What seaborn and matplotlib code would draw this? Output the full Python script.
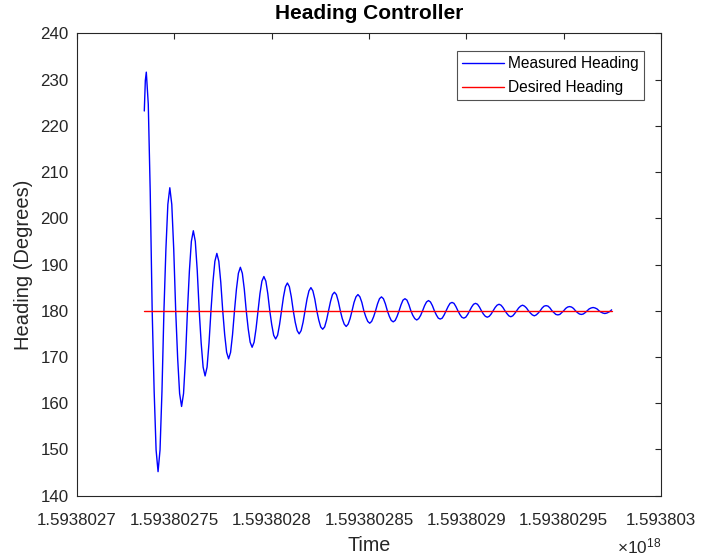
import matplotlib
matplotlib.use("Agg")
import matplotlib.pyplot as plt
import matplotlib.ticker as mticker
import seaborn as sns
import pandas as pd

# ---------------- data ----------------
T0_NS = 1.5938027e18           # start of the x axis, nanoseconds

# measured heading: time offsets (s) from T0, one row per half swing
measured_t = [
    34.57, 35.10,
    35.60, 36.61, 37.61, 38.62, 39.63, 40.63,
    41.64, 42.65, 43.65, 44.66, 45.67, 46.67,
    47.68, 48.69, 49.69, 50.70, 51.71, 52.71,
    53.72, 54.73, 55.73, 56.74, 57.75, 58.75,
    59.76, 60.77, 61.77, 62.78, 63.79, 64.79,
    65.80, 66.81, 67.81, 68.82, 69.83, 70.83,
    71.84, 72.85, 73.85, 74.86, 75.87, 76.87,
    77.88, 78.89, 79.89, 80.90, 81.91, 82.91,
    83.92, 84.93, 85.93, 86.94, 87.95, 88.95,
    89.96, 90.97, 91.97, 92.98, 93.99, 94.99,
    96.00, 97.01, 98.01, 99.02, 100.03, 101.03,
    102.04, 103.05, 104.05, 105.06, 106.07, 107.07,
    108.08, 109.09, 110.09, 111.10, 112.11, 113.11,
    114.12, 115.13, 116.13, 117.14, 118.15, 119.15,
    120.16, 121.17, 122.17, 123.18, 124.19, 125.19,
    126.20, 127.21, 128.21, 129.22, 130.23, 131.23,
    132.24, 133.25, 134.25, 135.26, 136.27, 137.27,
    138.28, 139.29, 140.29, 141.30, 142.31, 143.31,
    144.32, 145.33, 146.33, 147.34, 148.35, 149.35,
    150.36, 151.37, 152.37, 153.38, 154.39, 155.39,
    156.40, 157.41, 158.41, 159.42, 160.43, 161.43,
    162.44, 163.45, 164.45, 165.46, 166.47, 167.47,
    168.48, 169.49, 170.49, 171.50, 172.51, 173.51,
    174.52, 175.53, 176.53, 177.54, 178.55, 179.55,
    180.56, 181.57, 182.57, 183.58, 184.59, 185.59,
    186.60, 187.61, 188.61, 189.62, 190.63, 191.63,
    192.64, 193.65, 194.65, 195.66, 196.67, 197.67,
    198.68, 199.69, 200.69, 201.70, 202.71, 203.71,
    204.72, 205.73, 206.73, 207.74, 208.75, 209.75,
    210.76, 211.77, 212.77, 213.78, 214.79, 215.79,
    216.80, 217.81, 218.81, 219.82, 220.83, 221.83,
    222.84, 223.85, 224.85, 225.86, 226.87, 227.87,
    228.88, 229.89, 230.89, 231.90, 232.91, 233.91,
    234.92, 235.93, 236.93, 237.94, 238.95, 239.95,
    240.96, 241.97, 242.97, 243.98, 244.99, 245.99,
    247.00, 248.01, 249.01, 250.02, 251.03, 252.03,
    253.04, 254.05, 255.05, 256.06, 257.07, 258.07,
    259.08, 260.09, 261.09, 262.10, 263.11, 264.11,
    265.12, 266.13, 267.13, 268.14, 269.15, 270.15,
    271.16, 272.17, 273.17, 274.18, 274.60,
]
measured_heading = [
    223.2, 229.8,
    231.6, 224.7, 205.8, 180.0, 162.6, 149.9,
    145.2, 149.9, 162.6, 180.0, 193.3, 203.0,
    206.6, 203.0, 193.3, 180.0, 169.7, 162.1,
    159.3, 162.1, 169.7, 180.0, 188.7, 195.0,
    197.3, 195.0, 188.7, 180.0, 173.0, 167.8,
    165.9, 167.8, 173.0, 180.0, 186.2, 190.7,
    192.4, 190.7, 186.2, 180.0, 174.8, 171.0,
    169.6, 171.0, 174.8, 180.0, 184.7, 188.1,
    189.4, 188.1, 184.7, 180.0, 176.1, 173.2,
    172.1, 173.2, 176.1, 180.0, 183.7, 186.4,
    187.4, 186.4, 183.7, 180.0, 177.0, 174.7,
    173.9, 174.7, 177.0, 180.0, 183.0, 185.2,
    186.0, 185.2, 183.0, 180.0, 177.5, 175.7,
    175.0, 175.7, 177.5, 180.0, 182.5, 184.3,
    185.0, 184.3, 182.5, 180.0, 178.0, 176.5,
    176.0, 176.5, 178.0, 180.0, 182.0, 183.5,
    184.0, 183.5, 182.0, 180.0, 178.3, 177.1,
    176.6, 177.1, 178.3, 180.0, 181.8, 183.0,
    183.5, 183.0, 181.8, 180.0, 178.7, 177.7,
    177.3, 177.7, 178.7, 180.0, 181.5, 182.6,
    183.0, 182.6, 181.5, 180.0, 178.8, 177.9,
    177.6, 177.9, 178.8, 180.0, 181.3, 182.3,
    182.6, 182.3, 181.3, 180.0, 179.0, 178.3,
    178.0, 178.3, 179.0, 180.0, 181.1, 181.9,
    182.2, 181.9, 181.1, 180.0, 179.1, 178.4,
    178.2, 178.4, 179.1, 180.0, 180.9, 181.6,
    181.8, 181.6, 180.9, 180.0, 179.2, 178.6,
    178.4, 178.6, 179.2, 180.0, 180.8, 181.4,
    181.6, 181.4, 180.8, 180.0, 179.3, 178.8,
    178.6, 178.8, 179.3, 180.0, 180.7, 181.2,
    181.4, 181.2, 180.7, 180.0, 179.4, 178.9,
    178.7, 178.9, 179.4, 180.0, 180.6, 181.0,
    181.2, 181.0, 180.6, 180.0, 179.5, 179.1,
    178.9, 179.1, 179.5, 180.0, 180.6, 181.0,
    181.1, 181.0, 180.6, 180.0, 179.6, 179.2,
    179.1, 179.2, 179.6, 180.0, 180.5, 180.8,
    180.9, 180.8, 180.5, 180.0, 179.6, 179.3,
    179.2, 179.3, 179.6, 180.0, 180.4, 180.6,
    180.7, 180.6, 180.4, 180.0, 179.7, 179.5,
    179.4, 179.5, 179.7, 180.0, 180.2,
]

# desired heading
desired_t = [34.57, 274.60]
desired_heading = [180.0, 180.0]

series_labels = ["Measured Heading", "Desired Heading"]
x_ticks_ns = [1.5938027e18, 1.59380275e18, 1.5938028e18, 1.59380285e18,
              1.5938029e18, 1.59380295e18, 1.593803e18]
y_ticks = [140, 150, 160, 170, 180, 190, 200, 210, 220, 230, 240]

# ---------------- figure ----------------
sns.set_theme(style="white")
plt.rcParams["font.family"] = ["Liberation Sans", "DejaVu Sans"]
plt.rcParams["mathtext.fontset"] = "custom"
plt.rcParams["mathtext.rm"] = "Liberation Sans"
plt.rcParams["mathtext.it"] = "Liberation Sans"

dark = "#262626"

meas_df = pd.DataFrame({"t": [T0_NS + s * 1e9 for s in measured_t],
                        "h": measured_heading})
des_df = pd.DataFrame({"t": [T0_NS + s * 1e9 for s in desired_t],
                       "h": desired_heading})

fig = plt.figure(figsize=(7.01, 5.60), dpi=100)
fig.patch.set_facecolor("white")
ax = fig.add_axes([77 / 701, 1 - 495.7 / 560, 584 / 701, 462.4 / 560])

sns.lineplot(data=meas_df, x="t", y="h", ax=ax, color="#0000FF", lw=1.0,
             sort=False, estimator=None, label=series_labels[0])
sns.lineplot(data=des_df, x="t", y="h", ax=ax, color="#FF0000", lw=1.0,
             sort=False, estimator=None, label=series_labels[1])

ax.set_xlim(x_ticks_ns[0], x_ticks_ns[-1])
ax.set_ylim(y_ticks[0], y_ticks[-1])
ax.set_xticks(x_ticks_ns)
ax.set_yticks(y_ticks)
ax.xaxis.set_major_formatter(mticker.FuncFormatter(lambda v, p: f"{v / 1e18:.10g}"))
ax.yaxis.set_major_formatter(mticker.FuncFormatter(lambda v, p: f"{v:g}"))

ax.tick_params(axis="both", which="major", direction="in", length=4.5,
               width=0.8, color=dark, labelcolor=dark, labelsize=12.2,
               top=True, right=True)
ax.tick_params(axis="x", pad=12.5)
ax.tick_params(axis="y", pad=6)
for sp in ax.spines.values():
    sp.set_color(dark)
    sp.set_linewidth(0.8)
ax.set_facecolor("white")
ax.grid(False)

ax.set_title("Heading Controller", fontsize=15, fontweight="bold",
             color="black", pad=10)
ax.set_xlabel("Time", fontsize=14.2, color=dark, labelpad=6)
ax.set_ylabel("Heading (Degrees)", fontsize=14.5, color=dark, labelpad=5)

ax.text(1.0, -0.088, r"$\times10^{18}$", transform=ax.transAxes,
        ha="right", va="top", fontsize=12.4, color=dark)

leg = ax.legend(loc="upper right", bbox_to_anchor=(0.971, 0.962),
                borderaxespad=0, fontsize=11.2, frameon=True, fancybox=False,
                handlelength=2.7, handletextpad=0.25, labelspacing=0.59,
                borderpad=0.33)
leg.get_frame().set_edgecolor(dark)
leg.get_frame().set_linewidth(0.8)
for txt in leg.get_texts():
    txt.set_color("black")

fig.savefig("out.png", dpi=100, facecolor="white")
